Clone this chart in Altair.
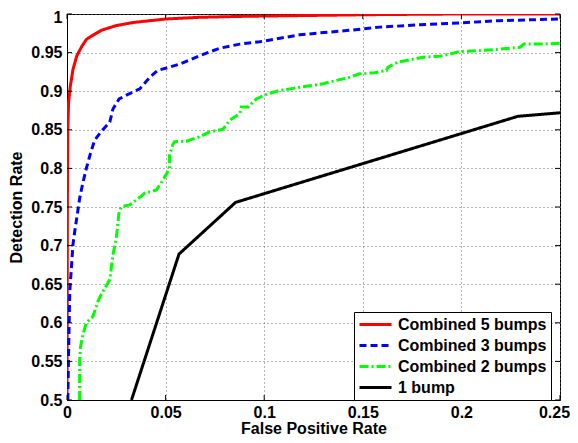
import altair as alt
import pandas as pd

series_names = ["Combined 5 bumps", "Combined 3 bumps", "Combined 2 bumps", "1 bump"]
series_colors = ["#ff0000", "#0000ff", "#00ff00", "#000000"]
series_dashes = [[1, 0], [7, 4], [9, 3, 2, 3], [1, 0]]

red_x = [0, 0.0002, 0.0004, 0.0008, 0.0016, 0.003, 0.005, 0.0075, 0.0098, 0.0115, 0.0135,
         0.0175, 0.025, 0.0335, 0.05, 0.067, 0.09, 0.12, 0.16, 0.2, 0.25]
red_y = [0.5, 0.75, 0.85, 0.885, 0.905, 0.928, 0.946, 0.958, 0.967, 0.970, 0.973,
         0.979, 0.985, 0.989, 0.9935, 0.9957, 0.997, 0.998, 0.9993, 1.0, 1.0]

blue_x = [0.0004, 0.0008, 0.0011, 0.0014, 0.0022, 0.003, 0.0039, 0.0052, 0.0064, 0.0078,
          0.0098, 0.0119, 0.014, 0.0174, 0.0217, 0.0233, 0.0264, 0.0318, 0.0369, 0.042,
          0.046, 0.0504, 0.057, 0.0673, 0.0774, 0.0876, 0.0977, 0.108, 0.118, 0.128,
          0.1417, 0.1586, 0.179, 0.199, 0.2196, 0.25]
blue_y = [0.5, 0.56, 0.6, 0.641, 0.67, 0.701, 0.718, 0.74, 0.761, 0.7785,
          0.800, 0.8194, 0.8365, 0.848, 0.860, 0.877, 0.890, 0.897, 0.903, 0.918,
          0.927, 0.930, 0.935, 0.946, 0.9557, 0.961, 0.964, 0.9686, 0.973, 0.9755,
          0.9785, 0.983, 0.986, 0.9884, 0.9914, 0.9935]

green_x = [0.0064, 0.0064, 0.0068, 0.0081, 0.0098, 0.0132, 0.0157, 0.0174, 0.0217, 0.0233,
           0.025, 0.0264, 0.0276, 0.0318, 0.0352, 0.0394, 0.0453, 0.0487, 0.052, 0.052,
           0.0538, 0.0546, 0.0605, 0.0673, 0.0724, 0.0791, 0.0825, 0.0876, 0.0884, 0.0918,
           0.096, 0.1019, 0.1079, 0.1155, 0.1222, 0.1298, 0.1366, 0.1434, 0.1484, 0.156,
           0.162, 0.1628, 0.1678, 0.1737, 0.1805, 0.189, 0.194, 0.199, 0.2093, 0.2177,
           0.2246, 0.2297, 0.2317, 0.2397, 0.25]
green_y = [0.5, 0.5505, 0.568, 0.585, 0.600, 0.6086, 0.628, 0.637, 0.656, 0.688,
           0.7097, 0.744, 0.7505, 0.7527, 0.759, 0.768, 0.772, 0.785, 0.800, 0.817,
           0.832, 0.8345, 0.8353, 0.841, 0.8474, 0.8507, 0.8624, 0.871, 0.8796, 0.8796,
           0.890, 0.8968, 0.901, 0.904, 0.9067, 0.9097, 0.914, 0.918, 0.9226, 0.924,
           0.927, 0.9312, 0.9377, 0.9406, 0.944, 0.9454, 0.948, 0.9514, 0.9526, 0.954,
           0.9557, 0.957, 0.961, 0.961, 0.962]

black_x = [0.0327, 0.0568, 0.0855, 0.2287, 0.25]
black_y = [0.5, 0.689, 0.756, 0.8675, 0.872]

x_ticks = [0, 0.05, 0.1, 0.15, 0.2, 0.25]
y_ticks = [0.5, 0.55, 0.6, 0.65, 0.7, 0.75, 0.8, 0.85, 0.9, 0.95, 1.0]

rows = []
for name, xs, ys in zip(series_names, [red_x, blue_x, green_x, black_x],
                        [red_y, blue_y, green_y, black_y]):
    for i, (xv, yv) in enumerate(zip(xs, ys)):
        rows.append({"series": name, "fpr": xv, "det": yv, "order": i})
df = pd.DataFrame(rows)

W, H = 493, 386
font = "Liberation Sans"

xscale = alt.Scale(domain=[0, 0.25], nice=False, zero=False)
yscale = alt.Scale(domain=[0.5, 1.0], nice=False, zero=False)
x_axis = alt.Axis(values=x_ticks, format="~g",
                  labelOffset={"condition": {"test": "datum.value >= 0.25", "value": -6}, "value": 0})
y_axis = alt.Axis(values=y_ticks, format="~g",
                  labelOffset={"condition": {"test": "datum.value >= 1", "value": 3}, "value": 0})
x_title = "False Positive Rate"
y_title = "Detection Rate"

lines = alt.Chart(df).mark_line(strokeWidth=3, clip=True).encode(
    x=alt.X("fpr:Q", scale=xscale, title=x_title, axis=x_axis),
    y=alt.Y("det:Q", scale=yscale, title=y_title, axis=y_axis),
    color=alt.Color("series:N", scale=alt.Scale(domain=series_names, range=series_colors),
                    title=None),
    strokeDash=alt.StrokeDash("series:N", scale=alt.Scale(domain=series_names, range=series_dashes),
                              title=None),
    order="order:Q",
)

xt = pd.DataFrame({"t": x_ticks})
yt = pd.DataFrame({"t": y_ticks})
tick_style = dict(color="black", strokeWidth=1)
xb = alt.Chart(xt).mark_rule(**tick_style).encode(
    x=alt.X("t:Q", scale=xscale, title=x_title, axis=x_axis), y=alt.value(H), y2=alt.value(H - 5))
xtp = alt.Chart(xt).mark_rule(**tick_style).encode(
    x=alt.X("t:Q", scale=xscale, title=x_title, axis=x_axis), y=alt.value(0), y2=alt.value(5))
yl = alt.Chart(yt).mark_rule(**tick_style).encode(
    y=alt.Y("t:Q", scale=yscale, title=y_title, axis=y_axis), x=alt.value(0), x2=alt.value(5))
yr = alt.Chart(yt).mark_rule(**tick_style).encode(
    y=alt.Y("t:Q", scale=yscale, title=y_title, axis=y_axis), x=alt.value(W), x2=alt.value(W - 5))

chart = alt.layer(lines, xb, xtp, yl, yr).properties(
    width=W, height=H,
    autosize=alt.AutoSizeParams(type="none"),
    padding={"left": 59, "top": 6, "right": 10, "bottom": 35},
).configure_view(
    stroke="black", strokeWidth=1
).configure_axis(
    labelFont=font, labelFontSize=16, labelFontWeight="bold", labelColor="black",
    titleFont=font, titleFontSize=16, titleFontWeight="bold", titleColor="black",
    domainColor="black", tickSize=0, labelPadding=4, titlePadding=0,
    grid=True, gridColor="#666666", gridDash=[1, 3], gridWidth=1,
    labelFlush=False, labelOverlap=False, labelBound=False,
).configure_axisY(
    titlePadding=6, labelPadding=5
).configure_legend(
    orient="none", legendX=287, legendY=298,
    labelFont=font, labelFontSize=16, labelFontWeight="bold", labelColor="black",
    symbolType="stroke", symbolSize=1024, symbolStrokeWidth=3,
    strokeColor="black", fillColor="white", padding=4, rowPadding=4, clipHeight=17,
    labelOffset=5, cornerRadius=0,
)

chart.save("out.html", embed_options={"renderer": "svg", "actions": False})
